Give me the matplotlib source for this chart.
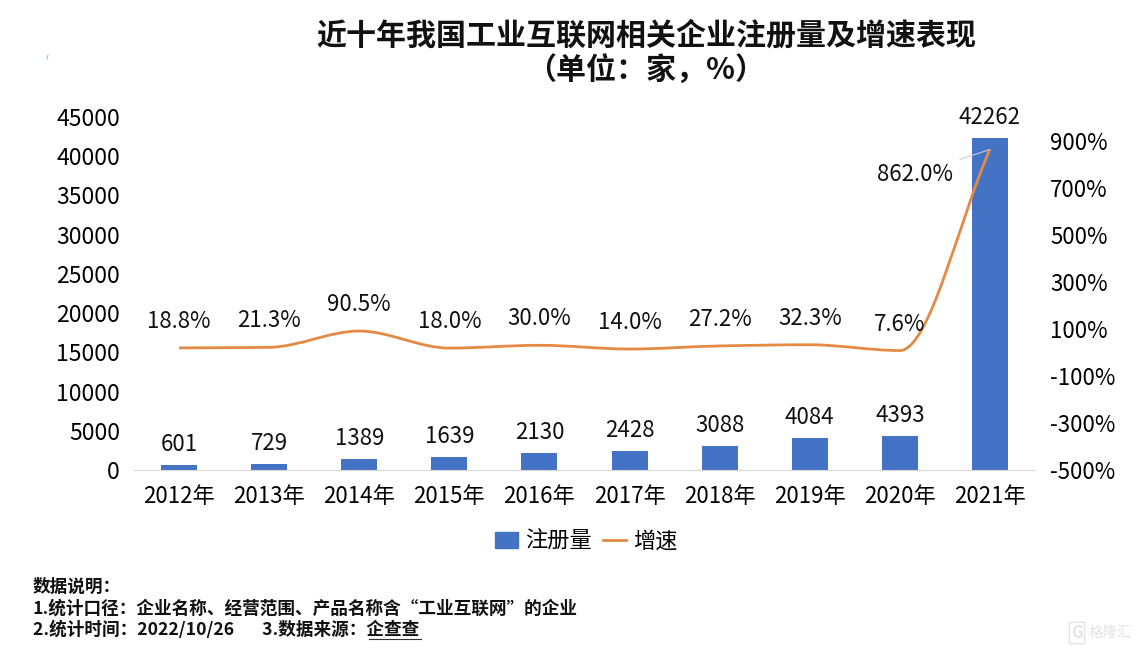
#!/usr/bin/env python3
# -*- coding: utf-8 -*-
"""
Registered companies and growth rate, bars with a smooth line on a second axis
"""


import matplotlib.pyplot as plt
import matplotlib.patches as patches
import numpy as np
from matplotlib.lines import Line2D
from matplotlib.path import Path

plt.rcParams['font.family'] = ['Noto Sans CJK SC', 'DejaVu Sans']

############################## Data ##################################
years = ['2012年', '2013年', '2014年', '2015年', '2016年', '2017年', '2018年', '2019年', '2020年', '2021年']
counts = [601, 729, 1389, 1639, 2130, 2428, 3088, 4084, 4393, 42262]
growth = [18.8, 21.3, 90.5, 18.0, 30.0, 14.0, 27.2, 32.3, 7.6, 862.0]
left_ticks = [0, 5000, 10000, 15000, 20000, 25000, 30000, 35000, 40000, 45000]
right_ticks = [-500, -300, -100, 100, 300, 500, 700, 900]

title_text = '近十年我国工业互联网相关企业注册量及增速表现\n（单位：家，%）'
note_lines = ['数据说明：',
              '1.统计口径：企业名称、经营范围、产品名称含“工业互联网”的企业',
              '2.统计时间：2022/10/26       3.数据来源：企查查']

########################### Smooth line function ########################################
def smooth_path(xs, ys):
    """ Bezier path through the points, flat at each turning point so it never overshoots much """
    steps = np.diff(ys)
    slopes = [steps[0]]
    for i in range(len(steps) - 1):
        if steps[i] * steps[i + 1] <= 0:
            slopes.append(0.0)
        else:
            slopes.append(2 * steps[i] * steps[i + 1] / (steps[i] + steps[i + 1]))
    slopes.append(steps[-1])

    verts = [(xs[0], ys[0])]
    codes = [Path.MOVETO]
    for i in range(len(xs) - 1):
        verts.append((xs[i] + 1 / 3, ys[i] + slopes[i] / 3))
        verts.append((xs[i + 1] - 1 / 3, ys[i + 1] - slopes[i + 1] / 3))
        verts.append((xs[i + 1], ys[i + 1]))
        codes += [Path.CURVE4, Path.CURVE4, Path.CURVE4]
    return Path(verts, codes)

########################### Bars ########################################
x = np.arange(len(years))
fig = plt.figure(figsize=(11.42, 6.51), dpi=100)
ax = plt.axes([134 / 1142, 1 - 470 / 651, 901 / 1142, 353 / 651])
ax.bar(x, counts, width=0.4, color='#4472C4')
ax.set_xlim(-0.5, 9.5)
ax.set_ylim(0, 45000)
ax.set_xticks(x)
ax.set_xticklabels(years)
ax.set_yticks(left_ticks)
ax.tick_params(axis='x', length=0, pad=11, labelsize=16)
ax.tick_params(axis='y', length=0, pad=10, labelsize=16.5)
for side in ['top', 'left', 'right']:
    ax.spines[side].set_visible(False)
ax.spines['bottom'].set_color('#D9D9D9')

for i in range(len(years)):
    ax.annotate(str(counts[i]), (x[i], counts[i]), xytext=(0, 6.5), textcoords='offset points',
                ha='center', va='bottom', fontsize=16, color='#111111')

########################### Growth line ########################################
ax2 = ax.twinx()
ax2.set_ylim(-500, 1000)
ax2.set_yticks(right_ticks)
ax2.set_yticklabels([str(t) + '%' for t in right_ticks])
ax2.tick_params(axis='y', length=0, pad=11, labelsize=16)
for side in ['top', 'left', 'right', 'bottom']:
    ax2.spines[side].set_visible(False)
ax2.add_patch(patches.PathPatch(smooth_path(x, growth), fill=False, edgecolor='#E58A45', linewidth=2.0))

for i in range(len(years) - 1):
    ax2.annotate('%.1f%%' % growth[i], (x[i], growth[i]), xytext=(0, 19), textcoords='offset points',
                 ha='center', va='center', fontsize=16, color='#111111')

# last label sits to the left with a thin leader line
ax2.annotate('%.1f%%' % growth[9], (x[9], growth[9]), xytext=(-26.5, -18), textcoords='offset points',
             ha='right', va='center', fontsize=16, color='#111111',
             arrowprops=dict(arrowstyle='-', color='#C8CDD6', linewidth=0.8, shrinkA=3, shrinkB=0))

########################### Title, legend, notes ########################################
fig.text(646 / 1142, 1 - 53 / 651, title_text, ha='center', va='center', fontsize=21.6,
         fontweight='bold', linespacing=1.2, color='#111111')

handles = [patches.Patch(color='#4472C4'), Line2D([0], [0], color='#E58A45', linewidth=2.0)]
fig.legend(handles, ['注册量', '增速'], loc='center', bbox_to_anchor=(586 / 1142, 1 - 541 / 651), ncol=2,
           frameon=False, fontsize=16, handlelength=1.05, handletextpad=0.3, columnspacing=0.5)

for i in range(len(note_lines)):
    fig.text(33 / 1142, 1 - (587 + i * 21.5) / 651, note_lines[i], ha='left', va='center',
             fontsize=12.7, fontweight='bold', color='#111111')
fig.add_artist(Line2D([369 / 1142, 421 / 1142], [1 - 639 / 651, 1 - 639 / 651], color='#333333', linewidth=0.8))

# stray mark top left, watermark bottom right
fig.add_artist(Line2D([47 / 1142, 48 / 1142], [1 - 59 / 651, 1 - 55 / 651], color='#8FC7C9', linewidth=0.8))
fig.text(1077 / 1142, 1 - 633 / 651, 'G', ha='center', va='center', fontsize=12, fontweight='bold', color='#E4E4E4',
         bbox=dict(boxstyle='round,pad=0.1', fill=False, edgecolor='#E4E4E4'))
fig.text(1111 / 1142, 1 - 633 / 651, '格隆汇', ha='center', va='center', fontsize=10.5, color='#E4E4E4')

plt.savefig('out.png', dpi=100)
